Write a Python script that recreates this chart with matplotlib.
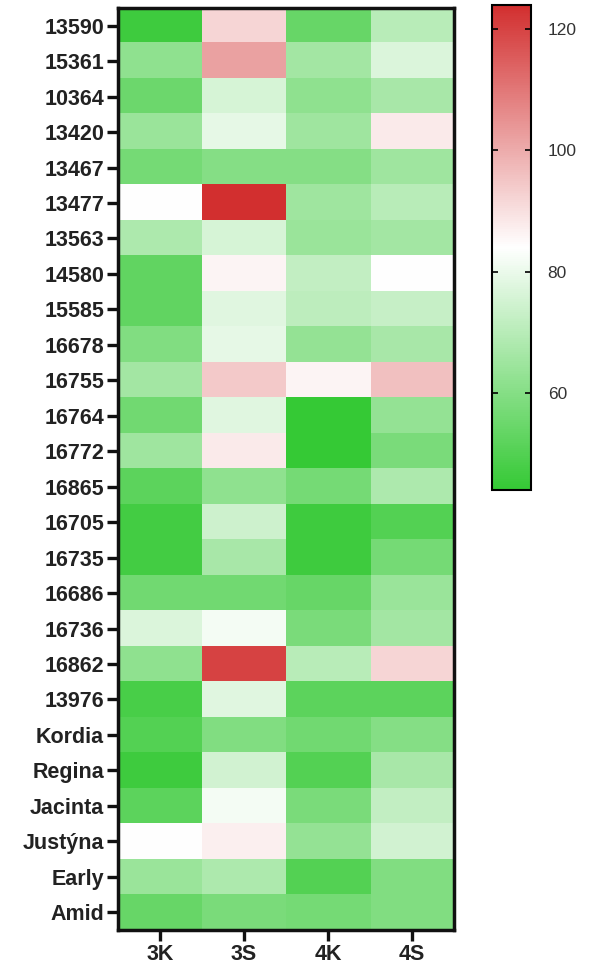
import matplotlib.pyplot as plt
import numpy as np
from matplotlib.colors import LinearSegmentedColormap

plt.rcParams['font.family'] = ['Liberation Sans', 'DejaVu Sans']

rows = ['13590', '15361', '10364', '13420', '13467', '13477', '13563', '14580',
        '15585', '16678', '16755', '16764', '16772', '16865', '16705', '16735',
        '16686', '16736', '16862', '13976', 'Kordia', 'Regina', 'Jacinta',
        'Justýna', 'Early', 'Amid']
cols = ['3K', '3S', '4K', '4S']

# hodnoty (sloupce 3K, 3S, 4K, 4S)
v_3K = [46, 62, 55, 64, 57, 84, 68, 53, 53, 59, 66, 56, 65, 52, 47, 47, 56, 77, 62, 48, 50, 46, 52, 84, 64, 54]
v_3S = [92, 102, 76, 79, 60, 124, 76, 86, 78, 79, 94, 78, 88, 62, 74, 67, 56, 82, 120, 78, 59, 75, 82, 87, 68, 58]
v_4K = [54, 66, 62, 65, 60, 65, 64, 72, 71, 63, 86, 44, 44, 57, 46, 46, 54, 58, 70, 52, 56, 50, 58, 63, 50, 57]
v_4S = [70, 77, 67, 88, 65, 70, 66, 84, 73, 67, 96, 63, 58, 68, 50, 57, 64, 66, 92, 52, 60, 67, 72, 75, 59, 59]

vmin, vmax = 44, 124

data = np.array([v_3K, v_3S, v_4K, v_4S]).T
cmap = LinearSegmentedColormap.from_list('gwr', ['#35C935', '#FFFFFF', '#D22F2F'])

fig = plt.figure(figsize=(5.9, 9.72), dpi=100)
ax = fig.add_axes([0.2, 0.0432, 0.5695, 0.9486])
im = ax.imshow(data, cmap=cmap, vmin=vmin, vmax=vmax, aspect='auto', interpolation='nearest')

ax.set_xticks(range(len(cols)))
ax.set_xticklabels(cols, fontsize=15.5, fontweight='bold', color='#222222')
ax.set_yticks(range(len(rows)))
ax.set_yticklabels(rows, fontsize=15.5, fontweight='bold', color='#222222')
ax.tick_params(axis='both', length=8, width=2.4, color='#111111', pad=2)
for s in ax.spines.values():
    s.set_linewidth(2.5)
    s.set_color('#111111')

cax = fig.add_axes([0.834, 0.4959, 0.066, 0.499])
cb = fig.colorbar(im, cax=cax)
cb.set_ticks([60, 80, 100, 120])
cb.outline.set_linewidth(1.5)
cax.tick_params(axis='y', direction='in', length=4, width=1.2, left=True, right=True,
                labelsize=12.5, labelcolor='#333333', pad=12)

plt.savefig('out.png', dpi=100)
